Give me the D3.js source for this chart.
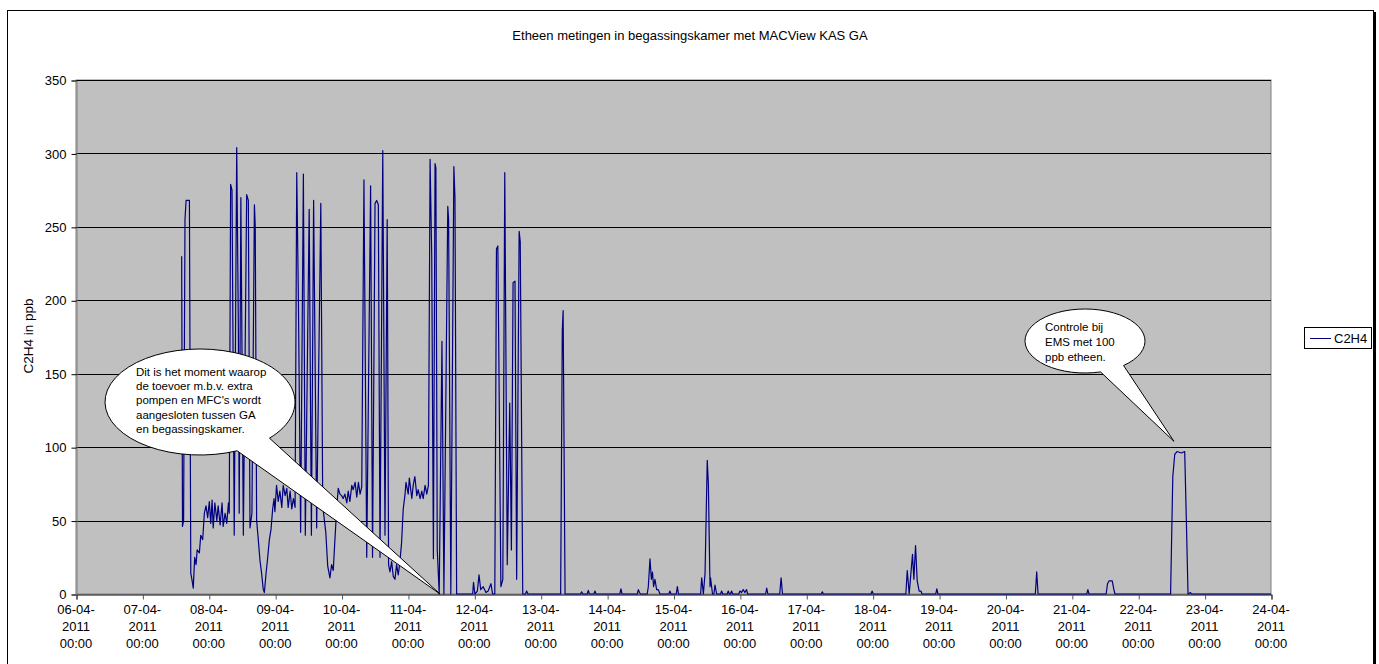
<!DOCTYPE html>
<html>
<head>
<meta charset="utf-8">
<script src="https://cdn.jsdelivr.net/npm/d3@7"></script>
<style>
body { margin: 0; background: #fff; }
text { font-family: Arial, "Liberation Sans", sans-serif; fill: #000; }
</style>
</head>
<body>
<div id="app"></div>
<script>

var title = "Etheen metingen in begassingskamer met MACView KAS GA";
var yTitle = "C2H4 in ppb";
var seriesName = "C2H4";
var yTicks = [0, 50, 100, 150, 200, 250, 300, 350];
var xTickDays = ["06-04-2011", "07-04-2011", "08-04-2011", "09-04-2011", "10-04-2011",
		 "11-04-2011", "12-04-2011", "13-04-2011", "14-04-2011", "15-04-2011",
		 "16-04-2011", "17-04-2011", "18-04-2011", "19-04-2011", "20-04-2011",
		 "21-04-2011", "22-04-2011", "23-04-2011", "24-04-2011"];

// [hours after 06-04-2011 00:00, ppb]
var c2h4 = [
    [38.2,230],[38.5,46],[38.9,50],[39.4,255],[39.8,268],[41.0,268],[41.5,14],[41.9,10],[42.4,4],[42.9,25],
    [43.4,20],[43.8,30],[44.6,28],[45.1,40],[45.8,37],[46.4,55],[47.0,60],[47.6,52],[48.2,63],[48.7,48],
    [49.2,64],[49.6,45],[50.2,62],[50.9,50],[51.4,60],[52.1,47],[52.8,62],[53.2,46],[53.9,55],[54.5,48],
    [55.1,62],[55.4,55],[55.9,279],[56.4,275],[57.2,40],[58.1,304],[58.7,180],[59.0,55],[59.6,270],[60.5,40],
    [61.7,272],[62.3,268],[62.9,45],[63.6,55],[64.5,265],[64.8,250],[65.3,50],[65.9,37],[66.5,23],[67.1,14],
    [67.7,3],[68.1,1],[68.7,14],[69.2,23],[69.9,37],[70.5,44],[71.1,58],[71.6,65],[71.9,56],[72.5,74],
    [73.1,63],[73.7,70],[74.4,59],[74.9,74],[75.6,67],[76.2,72],[76.7,59],[77.4,70],[78.0,58],[78.6,65],
    [79.2,59],[79.8,287],[80.4,200],[81.2,42],[82.2,286],[82.9,40],[84.3,262],[85.1,40],[85.9,268],[87.0,45],
    [88.5,266],[89.2,60],[90.3,42],[91.0,19],[91.8,11],[92.4,20],[93.0,16],[93.6,37],[94.2,57],[94.8,72],
    [95.4,68],[96.0,67],[96.6,65],[97.2,68],[97.9,62],[98.4,70],[99.0,63],[99.7,74],[100.2,71],[100.9,76],
    [101.5,66],[102.1,76],[102.7,68],[103.3,73],[104.1,282],[105.1,25],[106.5,278],[107.2,25],[108.1,266],[108.7,268],
    [109.3,265],[109.9,25],[110.9,302],[111.7,40],[112.5,255],[113.0,20],[113.5,15],[114.1,22],[114.7,12],[115.3,10],
    [115.9,20],[116.5,13],[117.1,22],[117.7,35],[118.3,58],[118.9,67],[119.3,76],[120.1,68],[120.5,79],[121.4,65],
    [121.9,74],[122.5,80],[123.2,67],[123.7,71],[124.4,65],[125.0,70],[125.5,65],[126.2,74],[126.8,68],[127.4,74],
    [128.0,296],[128.6,230],[129.2,24],[129.8,293],[130.1,290],[130.6,30],[131.3,0],[132.3,172],[133.0,0],[134.4,264],
    [134.7,255],[135.5,0],[136.6,291],[137.0,270],[137.6,0],
    [143.4,0],[143.7,8],[144.2,0],[145.1,2],[145.7,13],[146.3,3],[147.2,5],[148.2,1],[149.0,2],[150.0,7],
    [150.6,0],[151.4,0],[152.0,235],[152.5,237],[153.6,5],[154.3,10],[155.0,287],[155.9,20],[156.8,130],[157.4,30],
    [158.0,212],[158.7,213],[159.3,10],[160.2,247],[160.6,240],[161.5,0],[162.5,0],[162.9,2],[163.4,0],
    [175.2,0],[175.8,180],[176.1,193],[176.8,0],
    [182.4,0],[182.8,1.5],[183.2,0],[184.8,0],[185.2,2.5],[185.6,0],[187.2,0],[187.6,2],[188.0,0],
    [196.6,0],[197.0,3.5],[197.4,0],[202.9,0],[203.3,3],[203.7,1],[204.1,0],
    [206.5,0],[206.9,5],[207.5,24],[208.0,10],[208.4,15],[208.8,5],[209.3,10],[209.9,3],[210.5,3],[211.1,0],
    [214.3,0],[214.7,2],[215.1,0],[217.0,0],[217.4,5],[217.8,0],
    [225.8,0],[226.2,11],[226.8,0],[227.4,14],[228.2,91],[228.6,75],[229.2,5],[229.4,11],[230.1,0],[230.6,0],
    [231.0,6],[231.6,0],[233.0,0],[233.4,2],[233.8,0],[235.4,0],[235.8,2],[236.2,0],[236.6,0],[237.0,2],
    [237.4,0],[239.6,0],[240.0,2],[240.6,1],[241.2,3],[241.8,1],[242.4,3],[242.8,0],
    [249.3,0],[249.7,4],[250.1,0],[254.4,0],[254.9,11],[255.4,0],
    [269.4,0],[269.8,1.5],[270.2,0],[287.4,0],[287.8,2],[288.2,0],
    [300.0,0],[300.5,16],[301.2,0],[302.4,27],[302.9,10],[303.5,33],[304.1,9],[304.8,2],[305.5,2],[305.8,0],
    [310.8,0],[311.2,3.5],[311.6,0],[346.8,0],[347.3,15],[347.8,0],[365.4,0],[365.8,3],[366.2,0],
    [372.4,0],[372.9,7],[373.5,9],[374.6,9],[375.2,3],[375.6,0],
    [395.7,0],[396.5,80],[397.2,95],[398.0,97],[399.6,96],[400.8,97],[401.4,50],[402.0,0],[402.9,1],[403.2,0],
    [432,0]
];

var noteLeft = ["Dit is het moment waarop", "de toevoer m.b.v. extra", "pompen en MFC's wordt",
		"aangesloten tussen GA", "en begassingskamer."];
var noteLeftAt = [131.6, 0];
var noteRight = ["Controle bij", "EMS met 100", "ppb etheen."];
var noteRightAt = [396.9, 104];


var start = new Date(2011, 3, 6);
function toDate(h) { return new Date(start.getTime() + h * 3600000); }

var svg = d3.select("#app")
    .append("svg")
    .attr("width", 1379)
    .attr("height", 664);

// chart frame
svg.append("rect")
    .attr("x", 7.5).attr("y", 10.5)
    .attr("width", 1366).attr("height", 700)
    .style("fill", "#fff").style("stroke", "#000");
svg.append("line")
    .attr("x1", 1375).attr("x2", 1375).attr("y1", 12).attr("y2", 700)
    .style("stroke", "#000").style("stroke-width", 2);

var x = d3.scaleTime()
    .domain([start, toDate(432)])
    .range([76, 1271]);
var y = d3.scaleLinear()
    .domain([0, 350])
    .range([594, 80]);

svg.append("rect")
    .attr("x", 76).attr("y", 80)
    .attr("width", 1195).attr("height", 514)
    .style("fill", "#c0c0c0")
    .style("stroke", "#808080");

// gridlines
svg.selectAll(".grid")
    .data(yTicks.slice(1))
    .enter()
    .append("line")
    .attr("class", "grid")
    .attr("x1", 76).attr("x2", 1271)
    .attr("y1", function (d) { return Math.round(y(d)) + 0.5; })
    .attr("y2", function (d) { return Math.round(y(d)) + 0.5; })
    .style("stroke", "#000");

// y axis
var yAxis = svg.append("g")
    .attr("transform", "translate(76.5,0.5)")
    .call(d3.axisLeft(y).tickValues(yTicks).tickSize(5).tickPadding(5));
yAxis.select(".domain").style("stroke", "#808080");
yAxis.selectAll(".tick line").style("stroke", "#000");
yAxis.selectAll("text")
    .style("font-size", "13px")
    .style("font-family", "Arial, 'Liberation Sans', sans-serif");

// x axis
var xAxis = svg.append("g")
    .attr("transform", "translate(0.5,594.5)")
    .call(d3.axisBottom(x)
	  .tickValues(xTickDays.map(function (d) { return d3.timeParse("%d-%m-%Y")(d); }))
	  .tickSize(5)
	  .tickFormat(""));
xAxis.select(".domain").style("stroke", "#000");
xAxis.selectAll(".tick line").style("stroke", "#555");

var labels = svg.selectAll(".xlabel")
    .data(xTickDays)
    .enter()
    .append("text")
    .attr("class", "xlabel")
    .attr("text-anchor", "middle")
    .style("font-size", "13px")
    .attr("transform", function (d) {
	return "translate(" + x(d3.timeParse("%d-%m-%Y")(d)) + ",0)";
    });
labels.append("tspan").attr("x", 0).attr("y", 614)
    .text(function (d) { return d.slice(0, 6); });
labels.append("tspan").attr("x", 0).attr("y", 631)
    .text(function (d) { return d.slice(6); });
labels.append("tspan").attr("x", 0).attr("y", 648)
    .text("00:00");

// series
var line = d3.line()
    .x(function (d) { return x(toDate(d[0])); })
    .y(function (d) { return y(d[1]); });

svg.append("path")
    .datum(c2h4)
    .attr("d", line)
    .style("fill", "none")
    .style("stroke", "#000080")
    .style("stroke-width", 1.2)
    .style("stroke-linejoin", "round");

// titles
svg.append("text")
    .attr("x", 690).attr("y", 40)
    .attr("text-anchor", "middle")
    .style("font-size", "13px")
    .text(title);

svg.append("text")
    .attr("transform", "translate(33,336) rotate(-90)")
    .attr("text-anchor", "middle")
    .style("font-size", "13.5px")
    .text(yTitle);

// legend
svg.append("rect")
    .attr("x", 1304.5).attr("y", 327.5)
    .attr("width", 67).attr("height", 21)
    .style("fill", "#fff").style("stroke", "#000");
svg.append("line")
    .attr("x1", 1310).attr("x2", 1331)
    .attr("y1", 338.5).attr("y2", 338.5)
    .style("stroke", "#000080");
svg.append("text")
    .attr("x", 1334).attr("y", 343)
    .style("font-size", "13px")
    .text(seriesName);

// callouts
function callout(cx, cy, rx, ry, a1, a2, tip, lines, tx, ty, lh) {
    var rad = Math.PI / 180;
    var p1 = [cx + rx * Math.cos(a1 * rad), cy + ry * Math.sin(a1 * rad)];
    var p2 = [cx + rx * Math.cos(a2 * rad), cy + ry * Math.sin(a2 * rad)];
    var d = "M" + p1 + " A" + rx + "," + ry + " 0 1 1 " + p2 + " L" + tip + " Z";
    svg.append("path")
	.attr("d", d)
	.style("fill", "#fff")
	.style("stroke", "#000")
	.style("stroke-width", 1);
    svg.append("text")
	.style("font-size", "11.5px")
	.selectAll("tspan")
	.data(lines)
	.enter()
	.append("tspan")
	.attr("x", tx)
	.attr("y", function (d, i) { return ty + i * lh; })
	.text(function (d) { return d; });
}

callout(200, 402, 95, 53, 67, 43,
	[x(toDate(noteLeftAt[0])), y(noteLeftAt[1])],
	noteLeft, 136, 376, 14.2);
callout(1085, 341, 60, 32, 75, 50,
	[x(toDate(noteRightAt[0])), y(noteRightAt[1])],
	noteRight, 1045, 331, 15);

</script>
</body>
</html>
